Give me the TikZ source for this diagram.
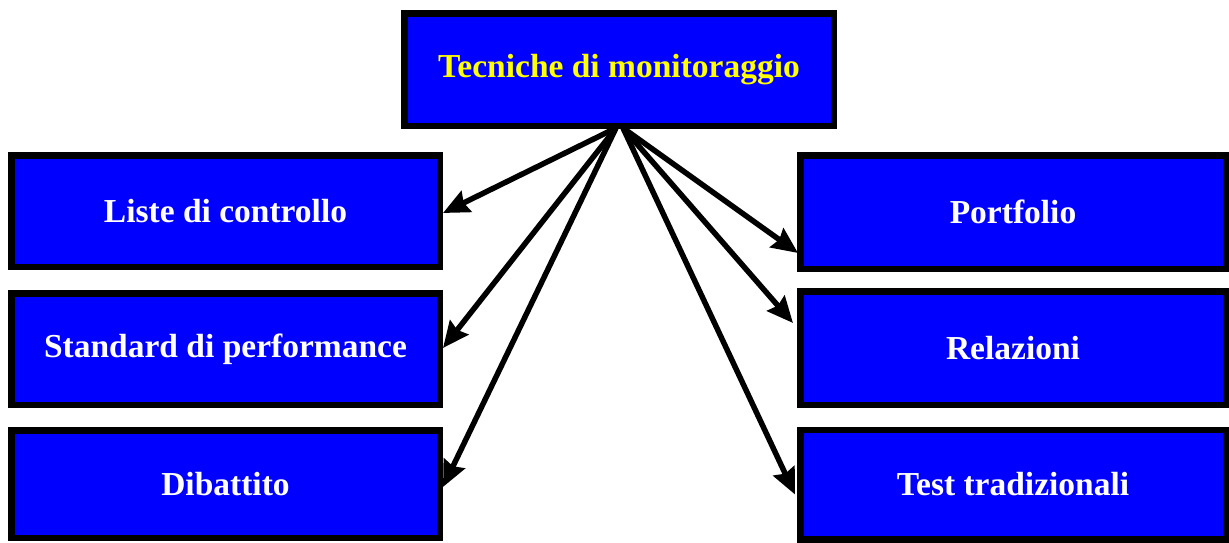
\documentclass[tikz,border=0pt]{standalone}
\usepackage{fontspec}
\setmainfont{Liberation Serif}
\usetikzlibrary{arrows.meta,calc}
\definecolor{boxblue}{RGB}{0,0,255}
\definecolor{titleyellow}{RGB}{255,255,0}
\begin{document}
\begin{tikzpicture}[x=1pt,y=-1pt,
  box/.style={draw=black,line width=6.5pt,fill=boxblue,inner sep=0pt,
    minimum width=428.5pt,minimum height=111.5pt,
    font=\fontsize{33.5}{40}\selectfont\bfseries,text=white},
  rbox/.style={box,minimum width=425.5pt,minimum height=113.5pt},
  link/.style={line width=5.5pt,-{Stealth[length=26pt,width=23pt,inset=3pt]}}]
\useasboundingbox (0,0) rectangle (1229,542);
\node[box,minimum width=429.5pt,minimum height=112.5pt,text=titleyellow] (top) at (619,69.5) {Tecniche di monitoraggio};
\node[box] (l1) at (225.5,211) {Liste di controllo};
\node[box] (l2) at (225.5,349) {Standard di performance};
\node[box,minimum height=107.5pt] (l3) at (225.5,484) {Dibattito};
\node[rbox] (r1) at (1013,212) {Portfolio};
\node[rbox] (r2) at (1013,348) {Relazioni};
\node[rbox,minimum height=109.5pt] (r3) at (1013,484.5) {Test tradizionali};
\coordinate (sl) at ($(top.south)+(-3,-1)$);
\coordinate (sr) at ($(top.south)+(4,-1)$);
\coordinate (e1) at ($(l1.east)+(0,2)$);
\coordinate (e2) at ($(l2.east)+(0,-1)$);
\coordinate (e3) at ($(l3.east)+(0,3)$);
\coordinate (f1) at ($(r1.west)+(1,41)$);
\coordinate (f2) at ($(r2.west)+(-4,-25)$);
\coordinate (f3) at ($(r3.west)+(-2,10)$);
\draw[link] (sl) -- (e1);
\draw[link] (sl) -- (e2);
\draw[link] (sl) -- (e3);
\draw[link] (sr) -- (f1);
\draw[link] (sr) -- (f2);
\draw[link] (sr) -- (f3);
\end{tikzpicture}
\end{document}
